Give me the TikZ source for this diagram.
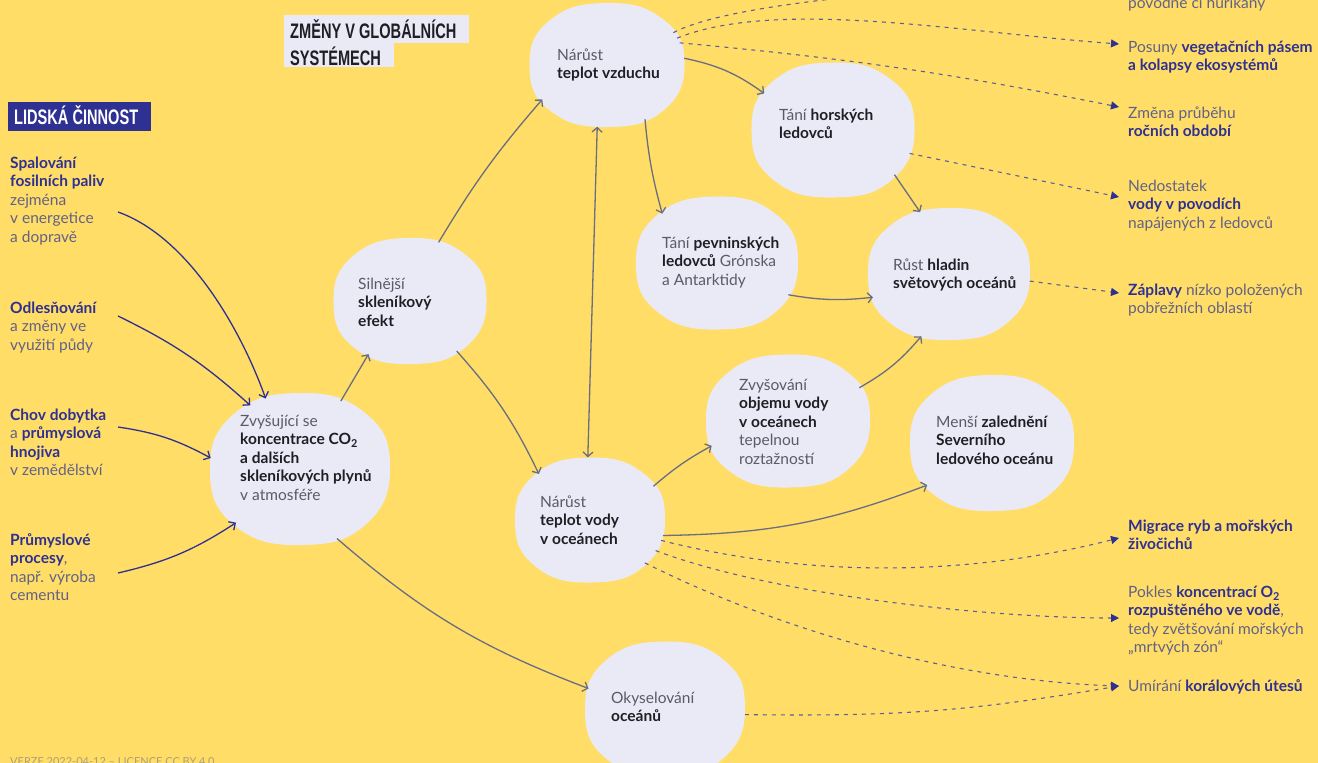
\documentclass[tikz,border=0pt]{standalone}
\usepackage{fontspec}
\setmainfont{Lato}
\newfontfamily\headfont[FakeStretch=0.695]{Liberation Sans}
\usetikzlibrary{arrows.meta,calc,shapes.geometric}
\definecolor{bgy}{RGB}{255,221,102}
\definecolor{blobc}{RGB}{234,234,246}
\definecolor{dblue}{RGB}{46,49,146}
\definecolor{lgray}{RGB}{90,90,104}
\definecolor{ink}{RGB}{30,30,36}
\definecolor{sgray}{RGB}{98,98,136}
\definecolor{agray}{RGB}{105,110,130}
\definecolor{dgray}{RGB}{92,96,150}
\definecolor{vgray}{RGB}{170,160,120}
\newcommand\hb[1]{{\bfseries\color{dblue}#1}}
\newcommand\bk[1]{{\bfseries\color{ink}#1}}
\newcommand\drawblob[3]{\fill[blobc, shift={(#1.center)}, xscale=#2, yscale=#3] plot[smooth cycle, tension=0.8] coordinates {(0,-1) (0.72,-0.74) (1,-0.05) (0.74,0.72) (0.02,1) (-0.72,0.75) (-1,0.03) (-0.74,-0.72)};}
\tikzset{
  blobnode/.style 2 args={ellipse, inner sep=0, minimum width=#1, minimum height=#2},
  btxt/.style={align=left, anchor=north west, inner sep=0, text=lgray},
  stxt/.style={align=left, anchor=north west, inner sep=0, text=sgray},
  garr/.style={draw=agray, line width=1.3pt, -{Straight Barb[length=4.5pt,width=10pt]}},
  garr2/.style={draw=agray, line width=1.3pt, {Straight Barb[length=4.5pt,width=10pt]}-{Straight Barb[length=4.5pt,width=10pt]}},
  barr/.style={draw=dblue, line width=1.3pt, -{Straight Barb[length=5pt,width=10pt]}},
  darr/.style={draw=dgray, line width=1.1pt, dash pattern=on 4pt off 5pt, -{Triangle[length=8pt,width=8pt,color=dblue]}},
}
\begin{document}
\begin{tikzpicture}[x=1pt, y=-1pt, font=\fontsize{15.5}{18.5}\selectfont]
\useasboundingbox (0,0) rectangle (1318,763);
\fill[bgy] (0,0) rectangle (1318,763);
\clip (0,0) rectangle (1318,763);

% ---- blob nodes (connector anchors)
\node[blobnode={180}{152}] (b1) at (300,469) {};
\node[blobnode={153}{126}] (b2) at (410,301) {};
\node[blobnode={155}{124}] (b3) at (607,65) {};
\node[blobnode={163}{135}] (b4) at (833,130) {};
\node[blobnode={162}{133}] (b5) at (717,263) {};
\node[blobnode={162}{132}] (b6) at (949,274) {};
\node[blobnode={164}{133}] (b7) at (788,421) {};
\node[blobnode={164}{136}] (b8) at (992,443) {};
\node[blobnode={150}{125}] (b9) at (590,520) {};
\node[blobnode={160}{135}] (b10) at (665,709) {};

\drawblob{b1}{90}{76}
\drawblob{b2}{76.5}{63}
\drawblob{b3}{77.5}{62}
\drawblob{b4}{81.5}{67.5}
\drawblob{b5}{81}{66.5}
\drawblob{b6}{81}{66}
\drawblob{b7}{82}{66.5}
\drawblob{b8}{82}{68}
\drawblob{b9}{75}{62.5}
\drawblob{b10}{80}{67.5}

% ---- headers
\fill[dblue] (8,102) rectangle (151,131);
\node[anchor=base west, inner sep=0, text=white, font=\headfont\bfseries\fontsize{21}{25}\selectfont] (lh) at (14,124) {LIDSKÁ ČINNOST};
\fill[blobc] (284,15) rectangle (469,43);
\fill[blobc] (284,43) rectangle (394,67);
\node[align=left, anchor=north west, inner sep=0, text=ink, font=\headfont\bfseries\fontsize{21}{25}\selectfont] (zh) at (290,19) {\strut ZMĚNY V GLOBÁLNÍCH\\SYSTÉMECH};

% ---- left texts
\node[stxt] (l1) at (10,155) {\strut\hb{Spalování}\\\hb{fosilních paliv}\\zejména\\v energetice\\a dopravě};
\node[stxt] (l2) at (10,300) {\strut\hb{Odlesňování}\\a změny ve\\využití půdy};
\node[stxt] (l3) at (10,407) {\strut\hb{Chov dobytka}\\a \hb{průmyslová}\\\hb{hnojiva}\\v zemědělství};
\node[stxt] (l4) at (10,532) {\strut\hb{Průmyslové}\\\hb{procesy},\\např. výroba\\cementu};

% ---- blob texts
\node[btxt] (t1) at (240,413) {\strut Zvyšující se\\\bk{koncentrace CO\textsubscript{2}}\\\bk{a dalších}\\\bk{skleníkových plynů}\\v atmosféře};
\node[btxt] (t2) at (358,276) {\strut Silnější\\\bk{skleníkový}\\\bk{efekt}};
\node[btxt] (t3) at (557,47) {\strut Nárůst\\\bk{teplot vzduchu}};
\node[btxt] (t4) at (779,107) {\strut Tání \bk{horských}\\\bk{ledovců}};
\node[btxt] (t5) at (662,235) {\strut Tání \bk{pevninských}\\\bk{ledovců} Grónska\\a Antarktidy};
\node[btxt] (t6) at (893,257) {\strut Růst \bk{hladin}\\\bk{světových oceánů}};
\node[btxt] (t7) at (739,377) {\strut Zvyšování\\\bk{objemu vody}\\\bk{v oceánech}\\tepelnou\\roztažností};
\node[btxt] (t8) at (936,414) {\strut Menší \bk{zalednění}\\\bk{Severního}\\\bk{ledového oceánu}};
\node[btxt] (t9) at (540,494) {\strut Nárůst\\\bk{teplot vody}\\\bk{v oceánech}};
\node[btxt] (t10) at (611,690) {\strut Okyselování\\\bk{oceánů}};

% ---- right texts
\node[stxt] (r0) at (1128,-5) {\strut povodně či hurikány};
\node[stxt] (r1) at (1128,39) {\strut Posuny \hb{vegetačních pásem}\\\hb{a kolapsy ekosystémů}};
\node[stxt] (r2) at (1128,105) {\strut Změna průběhu\\\hb{ročních období}};
\node[stxt] (r3) at (1128,178) {\strut Nedostatek\\\hb{vody v povodích}\\napájených z ledovců};
\node[stxt] (r4) at (1128,282) {\strut\hb{Záplavy} nízko položených\\pobřežních oblastí};
\node[stxt] (r5) at (1128,518) {\strut\hb{Migrace ryb a mořských}\\\hb{živočichů}};
\node[stxt] (r6) at (1128,584) {\strut Pokles \hb{koncentrací O\textsubscript{2}}\\\hb{rozpuštěného ve vodě},\\tedy zvětšování mořských\\„mrtvých zón“};
\node[stxt] (r7) at (1128,678) {\strut Umírání \hb{korálových útesů}};

\node[anchor=north west, inner sep=0, text=vgray, font=\fontsize{11}{13}\selectfont] (ver) at (10,757) {VERZE 2022-04-12 – LICENCE CC BY 4.0};

% ---- connector end coordinates
\coordinate (s1) at (118,212);
\coordinate (s2) at (118,316);
\coordinate (s3) at (118,427);
\coordinate (s4) at (118,573);
\coordinate (e0) at (1119,-16);
\coordinate (e1) at (1119,44);
\coordinate (e2) at (1119,107);
\coordinate (e3) at (1119,197);
\coordinate (e4) at (1119,293);
\coordinate (e5) at (1119,538);
\coordinate (e6) at (1119,618);
\coordinate (e7) at (1119,686);

% ---- human activity arrows
\draw[barr] (s1) .. controls +(70,25) and +(-25,-70) .. (b1.116);
\draw[barr] (s2) to[bend left=8] (b1.128);
\draw[barr] (s3) to[bend left=10] (b1.173);
\draw[barr] (s4) to[bend right=10] (b1.220);

% ---- system arrows
\draw[garr] (b1.59) -- (b2.232);
\draw[garr] (b2.64) to[bend left=5] (b3.208);
\draw[garr] (b2.313) to[bend left=8] (b9.138);
\draw[garr] (b1.298) to[bend right=10] (b10.165);
\draw[garr2] (b3.261) -- (b9.92);
\draw[garr] (b3.5) to[bend left=12] (b4.152);
\draw[garr] (b3.305) to[bend right=5] (b5.138);
\draw[garr] (b4.324) -- (b6.115);
\draw[garr] (b5.336) to[bend right=8] (b6.197);
\draw[garr] (b7.25) to[bend right=10] (b6.246);
\draw[garr] (b9.28) to[bend left=6] (b7.198);
\draw[garr] (b9.348) to[bend right=10] (b8.213);

% ---- consequence arrows
\draw[darr] (b3.26) .. controls +(60,-32) and +(-160,0) .. (e0);
\draw[darr] (b3.21) .. controls +(100,-40) and +(-160,-12) .. (e1);
\draw[darr] (b3.17) to[bend left=3] (e2);
\draw[darr] (b4.343) -- (e3);
\draw[darr] (b6.355) -- (e4);
\draw[darr] (b9.344) .. controls +(150,38) and +(-150,38) .. (e5);
\draw[darr] (b9.335) .. controls +(120,45) and +(-130,0) .. (e6);
\draw[darr] (b9.322) .. controls +(150,75) and +(-150,-5) .. (e7);
\draw[darr] (b10.356) .. controls +(160,2) and +(-150,25) .. (e7);
\end{tikzpicture}
\end{document}
